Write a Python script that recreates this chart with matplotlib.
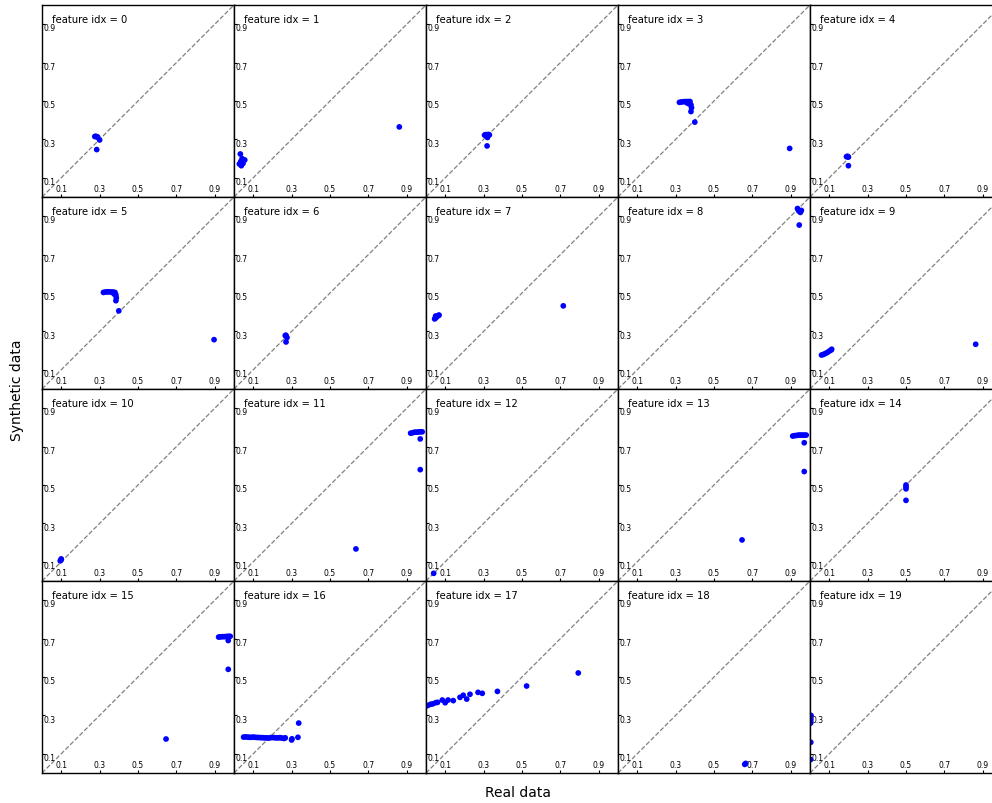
import matplotlib
matplotlib.use("Agg")
import matplotlib.pyplot as plt
from matplotlib.transforms import ScaledTranslation

# ---- data (real, synthetic) per feature ----
real_0 = [0.275, 0.28, 0.285, 0.29, 0.30, 0.285]
synth_0 = [0.315, 0.316, 0.314, 0.312, 0.297, 0.247]
real_1 = [0.033, 0.042, 0.056, 0.038, 0.028, 0.047, 0.035, 0.861]
synth_1 = [0.224, 0.200, 0.193, 0.163, 0.172, 0.175, 0.185, 0.365]
real_2 = [0.305, 0.31, 0.315, 0.32, 0.325, 0.33, 0.32, 0.318]
synth_2 = [0.322, 0.325, 0.324, 0.322, 0.326, 0.323, 0.31, 0.266]
real_3 = [0.32, 0.33, 0.34, 0.35, 0.36, 0.37, 0.375, 0.36, 0.37, 0.38, 0.383, 0.38, 0.40, 0.894]
synth_3 = [0.493, 0.495, 0.496, 0.497, 0.497, 0.497, 0.497, 0.49, 0.485, 0.48, 0.465, 0.445, 0.39, 0.253]
real_4 = [0.19, 0.195, 0.20, 0.198, 0.20]
synth_4 = [0.21, 0.212, 0.208, 0.21, 0.163]
real_5 = [0.32, 0.33, 0.34, 0.35, 0.36, 0.37, 0.38, 0.375, 0.385, 0.387, 0.385, 0.40, 0.896]
synth_5 = [0.503, 0.505, 0.506, 0.506, 0.505, 0.505, 0.503, 0.495, 0.49, 0.475, 0.46, 0.407, 0.257]
real_6 = [0.267, 0.276, 0.271, 0.27]
synth_6 = [0.278, 0.268, 0.245, 0.28]
real_7 = [0.045, 0.05, 0.055, 0.06, 0.065, 0.068, 0.05, 0.715]
synth_7 = [0.365, 0.37, 0.375, 0.38, 0.383, 0.385, 0.38, 0.433]
real_8 = [0.935, 0.94, 0.945, 0.95, 0.955, 0.944]
synth_8 = [0.94, 0.93, 0.925, 0.92, 0.93, 0.854]
real_9 = [0.06, 0.07, 0.08, 0.09, 0.10, 0.11, 0.113, 0.863]
synth_9 = [0.177, 0.18, 0.185, 0.19, 0.197, 0.203, 0.207, 0.233]
real_10 = [0.095, 0.10, 0.10]
synth_10 = [0.105, 0.11, 0.115]
real_11 = [0.92, 0.93, 0.94, 0.95, 0.96, 0.97, 0.98, 0.97, 0.97, 0.635]
synth_11 = [0.77, 0.772, 0.775, 0.775, 0.776, 0.777, 0.777, 0.74, 0.58, 0.167]
real_12 = [0.04]
synth_12 = [0.04]
real_13 = [0.91, 0.92, 0.93, 0.94, 0.95, 0.96, 0.97, 0.98, 0.97, 0.97, 0.646]
synth_13 = [0.755, 0.757, 0.758, 0.76, 0.76, 0.76, 0.76, 0.76, 0.72, 0.57, 0.214]
real_14 = [0.50, 0.50, 0.50, 0.50]
synth_14 = [0.50, 0.49, 0.48, 0.42]
real_15 = [0.92, 0.93, 0.94, 0.95, 0.96, 0.97, 0.98, 0.97, 0.97, 0.646]
synth_15 = [0.708, 0.709, 0.71, 0.71, 0.711, 0.712, 0.712, 0.69, 0.54, 0.177]
real_16 = [0.05, 0.06, 0.07, 0.08, 0.09, 0.10, 0.11, 0.12, 0.13, 0.14, 0.15, 0.16, 0.17,
           0.18, 0.19, 0.20, 0.21, 0.22, 0.23, 0.24, 0.25, 0.26, 0.267, 0.30, 0.302, 0.333, 0.337]
synth_16 = [0.187, 0.188, 0.187, 0.186, 0.186, 0.187, 0.186, 0.185, 0.185, 0.184, 0.184, 0.183, 0.183,
            0.182, 0.184, 0.185, 0.184, 0.183, 0.183, 0.184, 0.182, 0.180, 0.183, 0.172, 0.178, 0.186, 0.26]
real_17 = [0.0, 0.01, 0.024, 0.035, 0.05, 0.06, 0.085, 0.10, 0.115, 0.142, 0.177, 0.194, 0.212, 0.229,
           0.271, 0.293, 0.372, 0.524, 0.793]
synth_17 = [0.349, 0.352, 0.358, 0.36, 0.366, 0.368, 0.38, 0.366, 0.38, 0.377, 0.394, 0.405, 0.385, 0.41,
            0.42, 0.415, 0.425, 0.453, 0.521]
real_18 = [0.66, 0.665]
synth_18 = [0.045, 0.05]
real_19 = [0.003, 0.004, 0.005, 0.004, 0.003]
synth_19 = [0.26, 0.28, 0.30, 0.16, 0.07]

real_all = [real_0, real_1, real_2, real_3, real_4, real_5, real_6, real_7, real_8, real_9,
            real_10, real_11, real_12, real_13, real_14, real_15, real_16, real_17, real_18, real_19]
synth_all = [synth_0, synth_1, synth_2, synth_3, synth_4, synth_5, synth_6, synth_7, synth_8, synth_9,
             synth_10, synth_11, synth_12, synth_13, synth_14, synth_15, synth_16, synth_17, synth_18, synth_19]
tick_vals = [0.1, 0.3, 0.5, 0.7, 0.9]

W, H = 992, 804
fig = plt.figure(figsize=(W / 100, H / 100), dpi=100)

left0, top0, size = 42, 6, 192
for i in range(20):
    r, c = divmod(i, 5)
    x0 = left0 + c * size
    y0 = top0 + r * size
    ax = fig.add_axes([x0 / W, 1 - (y0 + size) / H, size / W, size / H])
    ax.plot([0, 1], [0, 1], linestyle="--", color="gray", linewidth=0.9, zorder=1)
    ax.scatter(real_all[i], synth_all[i], s=17, color="blue", edgecolors="none", zorder=2)
    ax.set_xlim(0, 1)
    ax.set_ylim(0, 1)
    ax.set_xticks(tick_vals)
    ax.set_yticks(tick_vals)
    ax.set_xticklabels([f"{v:.1f}" for v in tick_vals])
    ax.set_yticklabels([f"{v:.1f}" for v in tick_vals])
    ax.tick_params(axis="x", direction="in", length=2.5, width=0.8, pad=-9.5, labelsize=5.5)
    ax.tick_params(axis="y", direction="in", length=2.5, width=0.8, pad=-9.5, labelsize=5.5)
    shift = ScaledTranslation(0, -2.0 / 72, fig.dpi_scale_trans)
    for lab in ax.get_yticklabels():
        lab.set_horizontalalignment("right")
        lab.set_transform(lab.get_transform() + shift)
    for sp in ax.spines.values():
        sp.set_linewidth(1.0)
        sp.set_color("black")
    ax.text(0.05, 0.925, f"feature idx = {i}", transform=ax.transAxes,
            fontsize=7.2, va="center", ha="left")

fig.text(17 / W, 1 - 390 / H, "Synthetic data", rotation=90, va="center", ha="center", fontsize=10)
fig.text(518 / W, 1 - 793 / H, "Real data", va="center", ha="center", fontsize=10)

fig.savefig("out.png", dpi=100)
